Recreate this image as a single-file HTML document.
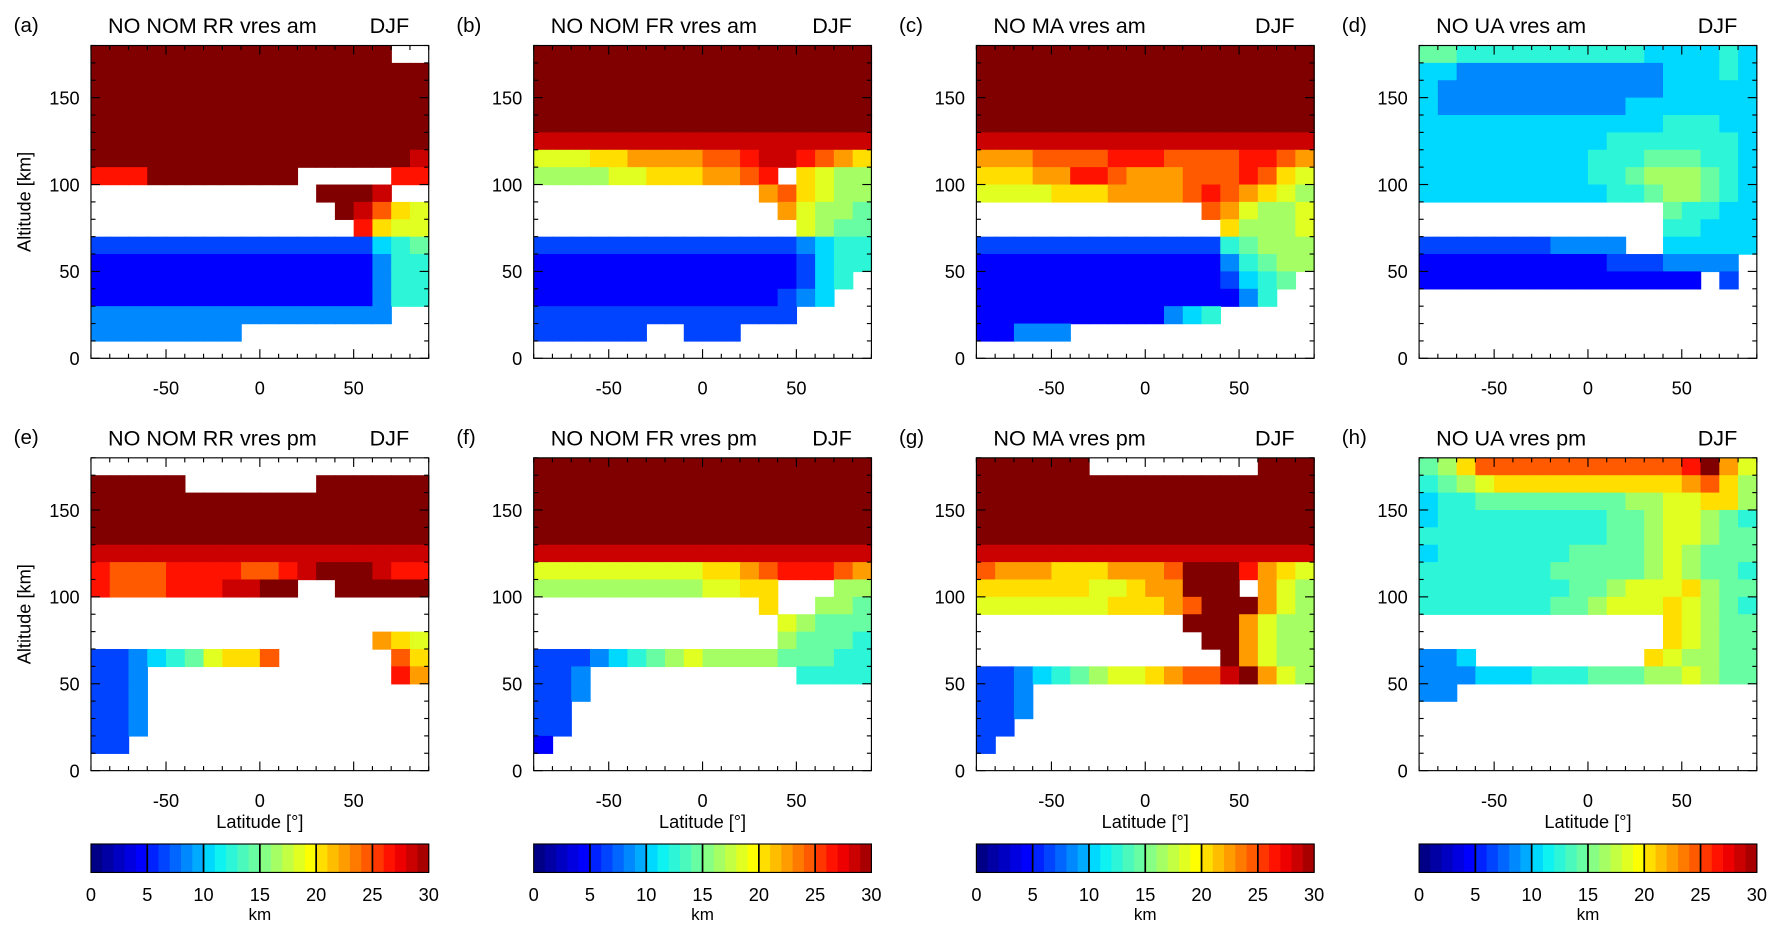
<!DOCTYPE html>
<html><head><meta charset="utf-8"><style>
body{margin:0;background:#fff;}
svg{display:block;font-family:"Liberation Sans",sans-serif;}
</style></head><body>
<svg id="fig" width="1774" height="935" viewBox="0 0 1560 822" preserveAspectRatio="none" xmlns="http://www.w3.org/2000/svg"></svg>
<script>
// Each grid: 18 rows (alt 170-180 down to 0-10), 18 cols (lat -90..90 step 10). hex digit*2 = km, '.' missing
const gridA=["FFFFFFFFFFFFFFFF..","FFFFFFFFFFFFFFFFFF","FFFFFFFFFFFFFFFFFF","FFFFFFFFFFFFFFFFFF","FFFFFFFFFFFFFFFFFF","FFFFFFFFFFFFFFFFFF","FFFFFFFFFFFFFFFFFE","DDDFFFFFFFF.....DD","............FFFE..",".............FECA9","..............DA99","3333333333333335677","222222222222222466.","222222222222222466.","222222222222222466.","4444444444444444..","44444444..........",".................."];
const gridB=["FFFFFFFFFFFFFFFFFF","FFFFFFFFFFFFFFFFFF","FFFFFFFFFFFFFFFFFF","FFFFFFFFFFFFFFFFFF","FFFFFFFFFFFFFFFFFF","EEEEEEEEEEEEEEEEEE","999AABBBBCCDEEDCBA","888899AAABBCD.A988","............BCA988",".............B9887","..............9877","333333333333334566","222222222222223566","22222222222222356.","2222222222222345..","33333333333333....","333333..333.......",".................."];
const gridC=["FFFFFFFFFFFFFFFFFF","FFFFFFFFFFFFFFFFFF","FFFFFFFFFFFFFFFFFF","FFFFFFFFFFFFFFFFFF","FFFFFFFFFFFFFFFFFF","EEEEEEEEEEEEEEEEEE","BBBCCCCDDDCCCCDDCB","AAABBDDCBBBCCCDCA9","9999AAABBBBCDCBA98","............CB9889",".............A8889","333333333333367888","222222222222246788","22222222222223567..","2222222222222246...","2222222222456.....","22444.............",".................."];
const gridD=["776666666666555565","554444444444455565","544444444444455555","544444444445555555","555555555555566655","555555555566666665","555555555666777665","555555555667888765","555555555566788765",".............76655",".............66555","33333334444..55555","22222222223334444.","222222222222222.3.","..................","..................","..................",".................."];
const gridE=["..................","FFFFF.......FFFFFF","FFFFFFFFFFFFFFFFFF","FFFFFFFFFFFFFFFFFF","FFFFFFFFFFFFFFFFFF","EEEEEEEEEEEEEEEEEE","DCCCDDDDCCDEFFFEDD","DCCCDDDEEFF..FFFFF","..................","..................","...............BA9","3345679AAC......CA","334.............DB","334...............","334...............","334...............","33................",".................."];
const gridF=["FFFFFFFFFFFFFFFFFF","FFFFFFFFFFFFFFFFFF","FFFFFFFFFFFFFFFFFF","FFFFFFFFFFFFFFFFFF","FFFFFFFFFFFFFFFFFF","EEEEEEEEEEEEEEEEEE","999999999AABCDDDCB","88888888899AA...88","............A..887",".............98777",".............87776","333456789888877766","334...........6666","334...............","33................","33................","2.................",".................."];
const gridG=["FFFFFF.........FFF","FFFFFFFFFFFFFFFFFF","FFFFFFFFFFFFFFFFFF","FFFFFFFFFFFFFFFFFF","FFFFFFFFFFFFFFFFFF","EEEEEEEEEEEEEEEEEE","CBBBAAABBBCFFFDBA9","AAAAAA99ABBFFF.B98","9999999AAABCFFFB98","...........FFFB988","............FFB988",".............FB988","334567899ABCCEFB98","334...............","334...............","33................","3.................",".................."];
const gridH=["78ACCCCCCCCCCCDFB9","6789AAAAAAAAAABCA8","566777777778899AA87","566666666677899876","666666666677899877","566666667777898777","666666677777898776","66666666778999A877","6666666778999A9876",".............A9877",".............A9877","445.........A98877","444555666777889877","44................","..................","..................","..................",".................."];
const grids=[gridA,gridB,gridC,gridD,gridE,gridF,gridG,gridH];
const panelLetters=["(a)","(b)","(c)","(d)","(e)","(f)","(g)","(h)"];
const panelTitles=["NO NOM RR vres am","NO NOM FR vres am","NO MA vres am","NO UA vres am","NO NOM RR vres pm","NO NOM FR vres pm","NO MA vres pm","NO UA vres pm"];
const xTicks=[-50,0,50];
const yTicks=[0,50,100,150];
const cbTicks=[0,5,10,15,20,25,30];

const NS="http://www.w3.org/2000/svg";
const svg=document.getElementById('fig');
function mk(tag,attrs,parent,text){const e=document.createElementNS(NS,tag);for(const k in attrs)e.setAttribute(k,attrs[k]);if(text!==undefined)e.textContent=text;(parent||svg).appendChild(e);return e;}
function cmap(v){
 if(v>=30) return 'rgb(128,0,0)';
 v=Math.max(0,Math.floor(v))+0.5;
 const stops=[[0,[0,0,120]],[4.5,[0,0,255]],[9.5,[0,170,255]],[11,[0,240,255]],[15,[120,255,150]],[19.5,[255,255,0]],[24.5,[255,90,0]],[27,[255,0,0]],[30,[150,0,0]]];
 for(let i=1;i<stops.length;i++){if(v<=stops[i][0]){const a=stops[i-1],b=stops[i];const f=(v-a[0])/(b[0]-a[0]);
 return 'rgb('+a[1].map((c,j)=>Math.round(c+(b[1][j]-c)*f)).join(',')+')';}}return 'rgb(128,0,0)';}
const W=297,H=275;
for(let p=0;p<8;p++){
 const col=p%4,row=Math.floor(p/4);
 const x0=80+col*389.3,y0=40+row*362.5;
 const xs=lat=>x0+(lat+90)/180*W, ys=alt=>y0+(180-alt)/180*H;
 const g=mk('g',{},svg);
 
 
 const grid=grids[p];
 for(let r=0;r<18;r++){const s=grid[r];for(let c=0;c<18;c++){const ch=s[c];if(!ch||ch==='.')continue;
  const v=parseInt(ch,16)*2;const lat=-90+c*10,alt=170-r*10;
  const cell=mk('rect',{x:xs(lat),y:ys(alt+10),width:xs(lat+10)-xs(lat)+0.6,height:ys(alt)-ys(alt+10)+0.6,fill:cmap(v)},g);
  
  }}
 const fr=mk('rect',{x:x0,y:y0,width:W,height:H,fill:'none',stroke:'#000','stroke-width':1},g);
 
 for(let lat=-90;lat<=90;lat+=10){const L=(lat%50===0)?8:4;const x=xs(lat);
  mk('line',{x1:x,y1:y0+H,x2:x,y2:y0+H-L,stroke:'#000'},g);mk('line',{x1:x,y1:y0,x2:x,y2:y0+L,stroke:'#000'},g);}
 for(let alt=0;alt<=180;alt+=10){const L=(alt%50===0)?8:4;const y=ys(alt);
  mk('line',{x1:x0,y1:y,x2:x0+L,y2:y,stroke:'#000'},g);mk('line',{x1:x0+W,y1:y,x2:x0+W-L,y2:y,stroke:'#000'},g);}
 xTicks.forEach(v=>{const t=mk('text',{x:xs(v),y:y0+H+32,'text-anchor':'middle','font-size':16},g,String(v));
  });
 yTicks.forEach(v=>{const t=mk('text',{x:x0-10,y:ys(v)+6,'text-anchor':'end','font-size':16},g,String(v));
  });
 const lt=mk('text',{x:x0-68,y:y0-12,'font-size':18},g,panelLetters[p]);
 
 const tt=mk('text',{x:x0+15,y:y0-11,'font-size':19},g,panelTitles[p]);
 
 const dj=mk('text',{x:x0+245,y:y0-11,'font-size':19},g,'DJF');
 
 if(col===0){const yl=mk('text',{x:0,y:0,'font-size':16,'text-anchor':'middle',transform:'translate(27,'+(y0+H/2)+') rotate(-90)'},g,'Altitude [km]');
  }
 if(row===1){const xl=mk('text',{x:x0+W/2,y:728,'font-size':16,'text-anchor':'middle'},g,'Latitude [°]');
  }
}
// colorbars
for(let col=0;col<4;col++){
 const x0=80+col*389.3,y0=742,h=25;
 const cb=mk('g',{},svg);
 
 for(let i=0;i<30;i++){mk('rect',{x:x0+i*W/30,y:y0,width:W/30+0.5,height:h,fill:cmap(i)},cb);}
 mk('rect',{x:x0,y:y0,width:W,height:h,fill:'none',stroke:'#000'},cb);
 cbTicks.forEach(v=>{const x=x0+v/30*W;if(v>0&&v<30)mk('line',{x1:x,y1:y0,x2:x,y2:y0+h,stroke:'#000','stroke-width':1.5},cb);
  const t=mk('text',{x:x,y:792,'text-anchor':'middle','font-size':16},cb,String(v));
  });
 const k=mk('text',{x:x0+W/2,y:809,'text-anchor':'middle','font-size':15},cb,'km');
 
}
</script>
</body></html>
